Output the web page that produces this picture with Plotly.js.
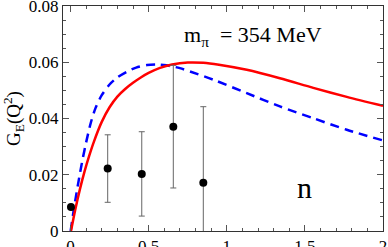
<!DOCTYPE html>
<html>
<head>
<meta charset="utf-8">
<script src="https://cdn.plot.ly/plotly-3.0.1.min.js"></script>
<style>html,body{margin:0;padding:0;background:#fff;}#chart{width:388px;height:247px;}</style>
</head>
<body>
<div id="chart"></div>
<script>
// Data
var redX = [0.003, 0.03, 0.06, 0.09, 0.12, 0.15, 0.2, 0.25, 0.3, 0.35, 0.4, 0.45, 0.5, 0.573, 0.65, 0.75, 0.85, 0.95, 1.128, 1.34, 1.554, 1.768, 2.0];
var redY = [0, 0.0075, 0.0148, 0.0212, 0.0268, 0.0318, 0.0388, 0.044, 0.0478, 0.0505, 0.0527, 0.0546, 0.0562, 0.058, 0.0592, 0.0599, 0.0598, 0.0591, 0.0573, 0.0543, 0.0509, 0.0477, 0.0445];
var blueX = [0.001, 0.02, 0.04, 0.06, 0.08, 0.1, 0.13, 0.16, 0.2, 0.25, 0.3, 0.36, 0.42, 0.49, 0.56, 0.615, 0.7, 0.765, 0.914, 1.128, 1.34, 1.554, 1.768, 2.0];
var blueY = [0, 0.0072, 0.014, 0.0203, 0.0262, 0.0315, 0.0385, 0.0437, 0.0483, 0.0521, 0.0546, 0.0566, 0.0581, 0.059, 0.0592, 0.0589, 0.0579, 0.0567, 0.0538, 0.049, 0.0443, 0.0401, 0.036, 0.0322];
var ptX = [0.003, 0.238, 0.456, 0.658, 0.85];
var ptY = [0.0085, 0.0222, 0.0203, 0.0371, 0.0172];
var ptErr = [0, 0.012, 0.015, 0.0218, 0.027];
var xTicks = [0, 0.5, 1, 1.5, 2];
var xTickText = ['0', '0.5', '1', '1.5', '2'];
var yTicks = [0, 0.02, 0.04, 0.06, 0.08];
var yTickText = ['0', '0.02', '0.04', '0.06', '0.08'];

var font = 'Liberation Serif';

var traces = [
  {x: blueX, y: blueY, mode: 'lines', line: {color: '#0000ff', width: 2.5, dash: '9px,6px', shape: 'spline', smoothing: 0.8}, hoverinfo: 'none'},
  {x: redX, y: redY, mode: 'lines', line: {color: '#ff0000', width: 2.5, shape: 'spline', smoothing: 0.8}, hoverinfo: 'none'},
  {x: ptX, y: ptY, mode: 'markers', marker: {color: '#000', size: 8},
   error_y: {type: 'data', array: ptErr, visible: true, color: '#666', thickness: 1, width: 3}, hoverinfo: 'none'}
];

var axisCommon = {
  showgrid: false, zeroline: false, showline: true, linecolor: '#333', linewidth: 1,
  mirror: 'allticks', ticks: 'inside', ticklen: 6, tickcolor: '#555', tickwidth: 1,
  ticklabeloverflow: 'allow',
  tickfont: {family: font, size: 17, color: '#000'}
};

var layout = {
  width: 388, height: 247,
  margin: {l: 63, r: 5, t: 6, b: 16},
  font: {family: font, size: 17, color: '#000'},
  paper_bgcolor: '#fff', plot_bgcolor: '#fff',
  showlegend: false,
  xaxis: Object.assign({}, axisCommon, {
    range: [-0.048, 2], tickvals: xTicks, ticktext: xTickText,
    minor: {dtick: 0.1, tick0: 0, ticks: 'inside', ticklen: 3, tickcolor: '#555', showgrid: false}
  }),
  yaxis: Object.assign({}, axisCommon, {
    range: [0, 0.08], tickvals: yTicks, ticktext: yTickText,
    minor: {dtick: 0.005, tick0: 0, ticks: 'inside', ticklen: 3, tickcolor: '#555', showgrid: false},
    title: {text: 'G<sub>E</sub>(Q<sup>2</sup>)', font: {family: font, size: 19, color: '#000'}, standoff: 5}
  }),
  annotations: [
    {x: 1.165, y: 0.0695, xref: 'x', yref: 'y', text: 'm<sub>π</sub>  = 354 MeV', showarrow: false,
     font: {family: font, size: 22, color: '#000'}},
    {x: 1.495, y: 0.0155, xref: 'x', yref: 'y', text: 'n', showarrow: false,
     font: {family: font, size: 30, color: '#000'}}
  ]
};

Plotly.newPlot('chart', traces, layout, {staticPlot: true, displayModeBar: false});
</script>
</body>
</html>
